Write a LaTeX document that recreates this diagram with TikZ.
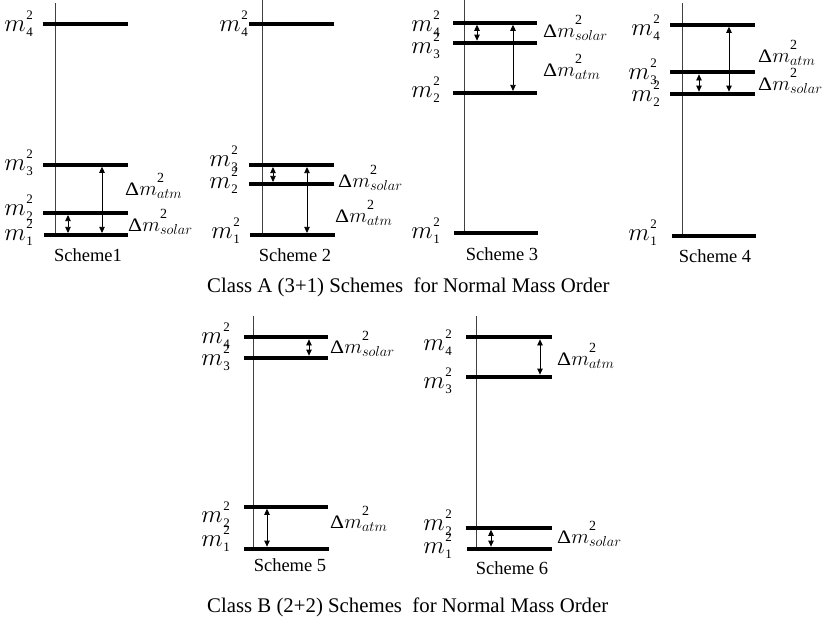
\documentclass[tikz,border=0pt]{standalone}
\usepackage{fontspec}
\usepackage{graphicx}
\setmainfont{Liberation Serif}
\usetikzlibrary{arrows.meta}
\newcommand\mlab[1]{{\fontsize{26}{26}\selectfont$m$}\kern0.5pt\rlap{\raisebox{12pt}{\fontsize{13}{13}\selectfont 2}}\raisebox{-5pt}{\fontsize{13}{13}\selectfont #1}}
\newcommand\dmlab[1]{\scalebox{1.15}[1]{\fontsize{19}{19}\selectfont Δ}{\fontsize{21}{21}\selectfont$m$}\rlap{\raisebox{13pt}{\fontsize{14}{14}\selectfont 2}}\raisebox{-3pt}{\fontsize{13.5}{13.5}\selectfont$#1$}}
\tikzset{
  bar/.style={line width=4.2pt},
  axisline/.style={line width=0.9pt, black!75},
  dbl/.style={line width=0.8pt, {Triangle[length=6pt,width=5.5pt]}-{Triangle[length=6pt,width=5.5pt]}},
  mlabel/.style={anchor=base east, inner sep=0pt},
  dlabel/.style={anchor=base west, inner sep=0pt},
  schemetxt/.style={anchor=base, inner sep=0pt, font=\fontsize{18.5}{18.5}\selectfont},
  captiontxt/.style={anchor=base west, inner sep=0pt, font=\fontsize{20.8}{20.8}\selectfont}
}
\begin{document}
\begin{tikzpicture}[x=1pt,y=-1pt]
\useasboundingbox[fill=white] (0,0) rectangle (825,629);

% ---------------- Scheme 1
\coordinate (s1t) at (55,3); \coordinate (s1b) at (55,235);
\draw[axisline] (s1t) -- (s1b);
\draw[bar] (43,23.7) coordinate (s1l4) -- (128,23.7) coordinate (s1r4);
\draw[bar] (43,164.7) coordinate (s1l3) -- (128,164.7) coordinate (s1r3);
\draw[bar] (43,213) coordinate (s1l2) -- (128,213) coordinate (s1r2);
\draw[bar] (44,235) coordinate (s1l1) -- (128,235) coordinate (s1r1);
\coordinate (s1sa) at (68,215.1); \coordinate (s1sb) at (68,232.9);
\draw[dbl] (s1sa) -- (s1sb);
\coordinate (s1aa) at (102,166.8); \coordinate (s1ab) at (102,232.9);
\draw[dbl] (s1aa) -- (s1ab);
\node[mlabel] (s1m4) at (33,31) {\mlab{4}};
\node[mlabel] (s1m3) at (33,170) {\mlab{3}};
\node[mlabel] (s1m2) at (33,215) {\mlab{2}};
\node[mlabel] (s1m1) at (33,240) {\mlab{1}};
\node[dlabel] (s1da) at (125,195) {\dmlab{atm}};
\node[dlabel] (s1ds) at (128,231) {\dmlab{solar}};
\node[schemetxt] (s1n) at (88,261) {Scheme1};

% ---------------- Scheme 2
\coordinate (s2t) at (262,0); \coordinate (s2b) at (262,235);
\draw[axisline] (s2t) -- (s2b);
\draw[bar] (249,24) coordinate (s2l4) -- (334,24) coordinate (s2r4);
\draw[bar] (249,165) coordinate (s2l3) -- (334,165) coordinate (s2r3);
\draw[bar] (249,184) coordinate (s2l2) -- (334,184) coordinate (s2r2);
\draw[bar] (250,235) coordinate (s2l1) -- (335,235) coordinate (s2r1);
\coordinate (s2sa) at (273,167.1); \coordinate (s2sb) at (273,181.9);
\draw[dbl] (s2sa) -- (s2sb);
\coordinate (s2aa) at (307,167.1); \coordinate (s2ab) at (307,232.9);
\draw[dbl] (s2aa) -- (s2ab);
\node[mlabel] (s2m4) at (248,31) {\mlab{4}};
\node[mlabel] (s2m3) at (238,166) {\mlab{3}};
\node[mlabel] (s2m2) at (238,188) {\mlab{2}};
\node[mlabel] (s2m1) at (240,238) {\mlab{1}};
\node[dlabel] (s2ds) at (338,187) {\dmlab{solar}};
\node[dlabel] (s2da) at (335,222) {\dmlab{atm}};
\node[schemetxt] (s2n) at (295,261) {Scheme 2};

% ---------------- Scheme 3
\coordinate (s3t) at (464,0); \coordinate (s3b) at (464,233);
\draw[axisline] (s3t) -- (s3b);
\draw[bar] (453,22.7) coordinate (s3l4) -- (537,22.7) coordinate (s3r4);
\draw[bar] (453,42.7) coordinate (s3l3) -- (537,42.7) coordinate (s3r3);
\draw[bar] (453,93) coordinate (s3l2) -- (537,93) coordinate (s3r2);
\draw[bar] (454,233) coordinate (s3l1) -- (538,233) coordinate (s3r1);
\coordinate (s3sa) at (477,24.8); \coordinate (s3sb) at (477,40.6);
\draw[dbl] (s3sa) -- (s3sb);
\coordinate (s3aa) at (513,24.8); \coordinate (s3ab) at (513,90.9);
\draw[dbl] (s3aa) -- (s3ab);
\node[mlabel] (s3m4) at (440,31) {\mlab{4}};
\node[mlabel] (s3m3) at (440,53) {\mlab{3}};
\node[mlabel] (s3m2) at (440,97) {\mlab{2}};
\node[mlabel] (s3m1) at (440,238) {\mlab{1}};
\node[dlabel] (s3ds) at (543,37) {\dmlab{solar}};
\node[dlabel] (s3da) at (543,76) {\dmlab{atm}};
\node[schemetxt] (s3n) at (502,260) {Scheme 3};

% ---------------- Scheme 4
\coordinate (s4t) at (682,3); \coordinate (s4b) at (682,236);
\draw[axisline] (s4t) -- (s4b);
\draw[bar] (670,24.7) coordinate (s4l4) -- (755,24.7) coordinate (s4r4);
\draw[bar] (670,72.3) coordinate (s4l3) -- (755,72.3) coordinate (s4r3);
\draw[bar] (670,93.7) coordinate (s4l2) -- (755,93.7) coordinate (s4r2);
\draw[bar] (672,235.7) coordinate (s4l1) -- (756,235.7) coordinate (s4r1);
\coordinate (s4sa) at (699,74.4); \coordinate (s4sb) at (699,91.6);
\draw[dbl] (s4sa) -- (s4sb);
\coordinate (s4aa) at (729,26.8); \coordinate (s4ab) at (729,91.6);
\draw[dbl] (s4aa) -- (s4ab);
\node[mlabel] (s4m4) at (660,35) {\mlab{4}};
\node[mlabel] (s4m3) at (657,79) {\mlab{3}};
\node[mlabel] (s4m2) at (660,101) {\mlab{2}};
\node[mlabel] (s4m1) at (657,240) {\mlab{1}};
\node[dlabel] (s4da) at (758,62) {\dmlab{atm}};
\node[dlabel] (s4ds) at (758,90) {\dmlab{solar}};
\node[schemetxt] (s4n) at (715,262) {Scheme 4};

\node[captiontxt] (capA) at (207,292) {Class A (3+1) Schemes\ \ for Normal Mass Order};

% ---------------- Scheme 5
\coordinate (s5t) at (253,316); \coordinate (s5b) at (253,549);
\draw[axisline] (s5t) -- (s5b);
\draw[bar] (244,337.3) coordinate (s5l4) -- (328,337.3) coordinate (s5r4);
\draw[bar] (244,357.7) coordinate (s5l3) -- (328,357.7) coordinate (s5r3);
\draw[bar] (244,506.7) coordinate (s5l2) -- (328,506.7) coordinate (s5r2);
\draw[bar] (244,548.7) coordinate (s5l1) -- (329,548.7) coordinate (s5r1);
\coordinate (s5sa) at (309,339.4); \coordinate (s5sb) at (309,355.6);
\draw[dbl] (s5sa) -- (s5sb);
\coordinate (s5aa) at (267,508.8); \coordinate (s5ab) at (267,546.6);
\draw[dbl] (s5aa) -- (s5ab);
\node[mlabel] (s5m4) at (230,343) {\mlab{4}};
\node[mlabel] (s5m3) at (230,365) {\mlab{3}};
\node[mlabel] (s5m2) at (230,522) {\mlab{2}};
\node[mlabel] (s5m1) at (230,546) {\mlab{1}};
\node[dlabel] (s5ds) at (330,353) {\dmlab{solar}};
\node[dlabel] (s5da) at (330,528) {\dmlab{atm}};
\node[schemetxt] (s5n) at (290,571) {Scheme 5};

% ---------------- Scheme 6
\coordinate (s6t) at (476,316); \coordinate (s6b) at (476,549);
\draw[axisline] (s6t) -- (s6b);
\draw[bar] (466,337.3) coordinate (s6l4) -- (552,337.3) coordinate (s6r4);
\draw[bar] (466,376.7) coordinate (s6l3) -- (552,376.7) coordinate (s6r3);
\draw[bar] (466,527.7) coordinate (s6l2) -- (552,527.7) coordinate (s6r2);
\draw[bar] (467,548.7) coordinate (s6l1) -- (552,548.7) coordinate (s6r1);
\coordinate (s6aa) at (540,339.4); \coordinate (s6ab) at (540,374.6);
\draw[dbl] (s6aa) -- (s6ab);
\coordinate (s6sa) at (491,529.8); \coordinate (s6sb) at (491,546.6);
\draw[dbl] (s6sa) -- (s6sb);
\node[mlabel] (s6m4) at (452,350) {\mlab{4}};
\node[mlabel] (s6m3) at (452,388) {\mlab{3}};
\node[mlabel] (s6m2) at (452,530) {\mlab{2}};
\node[mlabel] (s6m1) at (452,553) {\mlab{1}};
\node[dlabel] (s6da) at (557,365) {\dmlab{atm}};
\node[dlabel] (s6ds) at (557,543) {\dmlab{solar}};
\node[schemetxt] (s6n) at (512,574) {Scheme 6};

\node[captiontxt] (capB) at (207,612) {Class B (2+2) Schemes\ \ for Normal Mass Order};
\end{tikzpicture}
\end{document}
